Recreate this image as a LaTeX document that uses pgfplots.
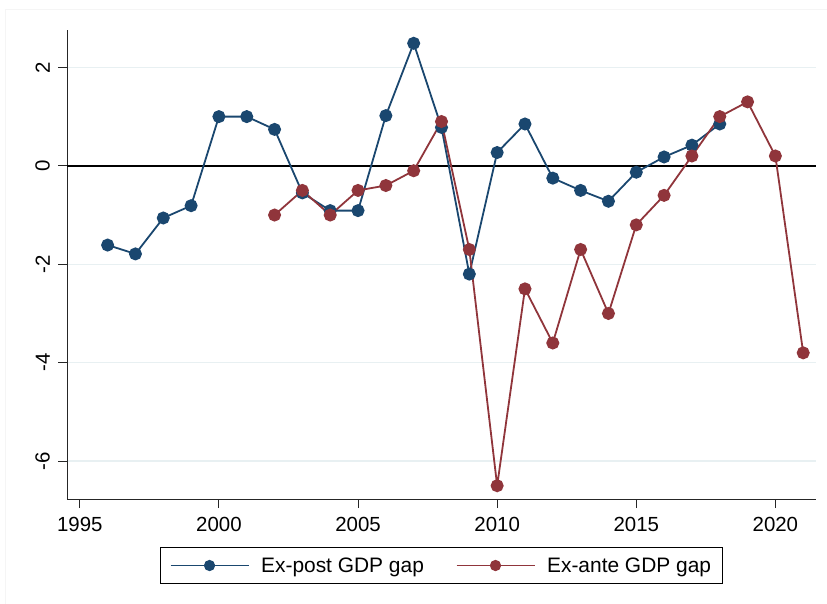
\documentclass[border=0pt]{standalone}
\usepackage{pgfplots}
\pgfplotsset{compat=1.18}
\usepackage{fontspec}
\setmainfont{Liberation Sans}

\definecolor{statanavy}{RGB}{26,71,111}
\definecolor{statamaroon}{RGB}{144,53,59}
\definecolor{gridblue}{RGB}{232,240,242}

\pgfplotstableread{
year gap
1996 -1.61
1997 -1.79
1998 -1.06
1999 -0.81
2000 1.00
2001 1.00
2002 0.74
2003 -0.55
2004 -0.91
2005 -0.91
2006 1.02
2007 2.49
2008 0.78
2009 -2.20
2010 0.27
2011 0.85
2012 -0.25
2013 -0.50
2014 -0.72
2015 -0.13
2016 0.18
2017 0.42
2018 0.85
}\expost

\pgfplotstableread{
year gap
2002 -1.0
2003 -0.5
2004 -1.0
2005 -0.5
2006 -0.4
2007 -0.1
2008 0.9
2009 -1.7
2010 -6.5
2011 -2.5
2012 -3.6
2013 -1.7
2014 -3.0
2015 -1.2
2016 -0.6
2017 0.2
2018 1.0
2019 1.3
2020 0.2
2021 -3.8
}\exante

\begin{document}
\begin{tikzpicture}
% page frame
\path[use as bounding box] (-67bp,-105bp) rectangle (760bp,499bp);
\draw[black!4, line width=0.8bp] (-62bp,-105bp) -- (-62bp,490bp) -- (760bp,490bp);
\begin{axis}[
  scale only axis,
  width=749bp, height=469bp,
  xmin=1994.54, xmax=2021.46,
  ymin=-6.77, ymax=2.76,
  axis lines=left,
  axis line style={-, black!85, line width=1bp},
  xtick={1995,2000,...,2020},
  xticklabels={1995,2000,2005,2010,2015,2020},
  ytick={-6,-4,-2,0,2},
  yticklabels={-6,-4,-2,0,2},
  tick align=outside,
  major tick length=9bp,
  tick style={black!85, line width=1bp},
  ymajorgrids,
  grid style={gridblue, line width=1.3bp},
  extra y ticks={0},
  extra y tick labels={},
  extra y tick style={grid style={black, line width=1.6bp}, major tick length=0pt},
  tick label style={font=\fontsize{20.5}{24}\selectfont},
  yticklabel style={rotate=90, anchor=south, inner sep=0pt, yshift=8bp},
  xticklabel style={inner sep=0pt, yshift=-9bp, anchor=north},
  legend columns=2,
  legend cell align=left,
  legend style={
    at={(0.5,-0.1023)}, anchor=north,
    draw=black, line width=1bp,
    font=\fontsize{21}{25}\selectfont,
    inner xsep=9bp, inner ysep=8bp,
    /tikz/every odd column/.append style={column sep=10bp},
    /tikz/every even column/.append style={column sep=30bp},
  },
  legend image code/.code={%
    \draw[mark repeat=2, mark phase=2, #1, line width=1.2bp, mark size=5bp]
      plot coordinates {(0bp,0bp) (39bp,0bp) (78bp,0bp)};},
]
\addplot[statanavy, line width=1.8bp, mark=*, mark size=5.6bp,
  mark options={fill=statanavy, draw=statanavy}]
  table[x=year, y=gap] {\expost};
\addlegendentry{Ex-post GDP gap}
\addplot[statamaroon, line width=1.8bp, mark=*, mark size=5.6bp,
  mark options={fill=statamaroon, draw=statamaroon}]
  table[x=year, y=gap] {\exante};
\addlegendentry{Ex-ante GDP gap}
\end{axis}
\end{tikzpicture}
\end{document}
